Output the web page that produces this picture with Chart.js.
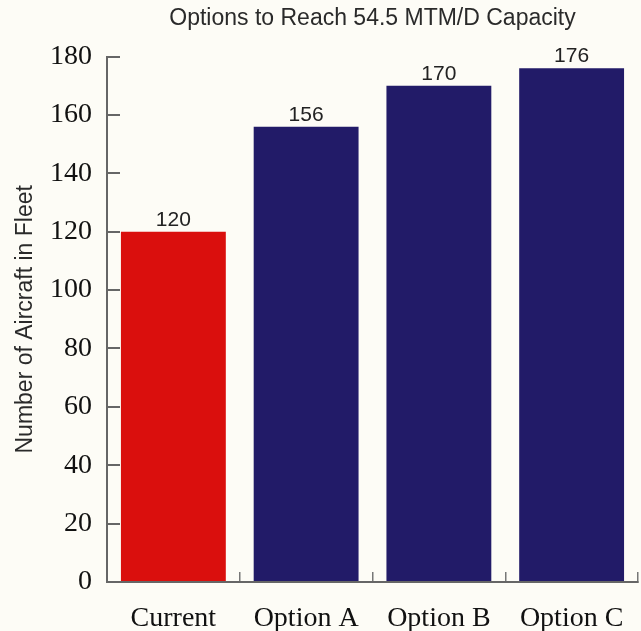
<!DOCTYPE html>
<html>
<head>
<meta charset="utf-8">
<script src="https://cdn.jsdelivr.net/npm/chart.js@4"></script>
<style>
  html, body { margin: 0; padding: 0; background: #fdfcf6; }
  #wrap { width: 641px; height: 631px; }
</style>
</head>
<body>
<div id="wrap"><canvas id="fleet"></canvas></div>
<script>
// Fleet size needed to reach 54.5 MTM/D
const CATEGORIES = ['Current', 'Option A', 'Option B', 'Option C'];
const AIRCRAFT = [120, 156, 170, 176];
const BAR_COLORS = ['#da0f0d', '#221b68', '#221b68', '#221b68'];
const Y_TICKS = [0, 20, 40, 60, 80, 100, 120, 140, 160, 180];

const SANS = '"Liberation Sans", Arial, sans-serif';
const SERIF = '"Liberation Serif", "Times New Roman", serif';

// value labels above each bar
const valueLabels = {
  id: 'valueLabels',
  afterDatasetsDraw(chart) {
    const ctx = chart.ctx;
    const meta = chart.getDatasetMeta(0);
    ctx.save();
    ctx.font = '21px ' + SANS;
    ctx.fillStyle = '#222';
    ctx.textAlign = 'center';
    ctx.textBaseline = 'alphabetic';
    meta.data.forEach((bar, i) => {
      ctx.fillText(String(AIRCRAFT[i]), bar.x, bar.y - 6);
    });
    ctx.restore();
  }
};

new Chart(document.getElementById('fleet'), {
  type: 'bar',
  data: {
    labels: CATEGORIES,
    datasets: [{
      data: AIRCRAFT,
      backgroundColor: BAR_COLORS,
      borderWidth: 0,
      categoryPercentage: 1,
      barPercentage: 0.79
    }]
  },
  options: {
    responsive: true,
    maintainAspectRatio: false,
    animation: false,
    layout: { padding: { left: 0, right: 3, top: 0, bottom: 0 } },
    plugins: {
      legend: { display: false },
      tooltip: { enabled: false },
      title: {
        display: true,
        fullSize: false,
        text: 'Options to Reach 54.5 MTM/D Capacity',
        color: '#2a2a2a',
        font: { family: SANS, size: 23, weight: 'normal' },
        padding: { top: 5, bottom: 24 }
      }
    },
    scales: {
      x: {
        grid: { display: true, drawOnChartArea: false, offset: true, tickLength: -10, color: '#777', lineWidth: 1.5 },
        border: { display: true, color: '#666', width: 2 },
        ticks: {
          color: '#111',
          padding: 30,
          maxRotation: 0,
          font: { family: SERIF, size: 28 }
        },
        afterFit(scale) {
          scale.height = 49;
          scale.paddingLeft = 0;
          scale.paddingRight = 0;
        }
      },
      y: {
        min: 0,
        max: 180,
        afterBuildTicks(scale) { scale.ticks = Y_TICKS.map(v => ({ value: v })); },
        grid: { display: true, drawOnChartArea: false, tickLength: -13, color: '#666', lineWidth: 2 },
        border: { display: true, color: '#666', width: 2 },
        ticks: {
          color: '#111',
          padding: 28,
          font: { family: SERIF, size: 28 }
        },
        title: {
          display: true,
          text: 'Number of Aircraft in Fleet',
          color: '#2a2a2a',
          font: { family: SANS, size: 23 },
          padding: { top: 12, bottom: 0 }
        },
        afterFit(scale) { scale.width = 107; }
      }
    }
  },
  plugins: [valueLabels]
});
</script>
</body>
</html>
